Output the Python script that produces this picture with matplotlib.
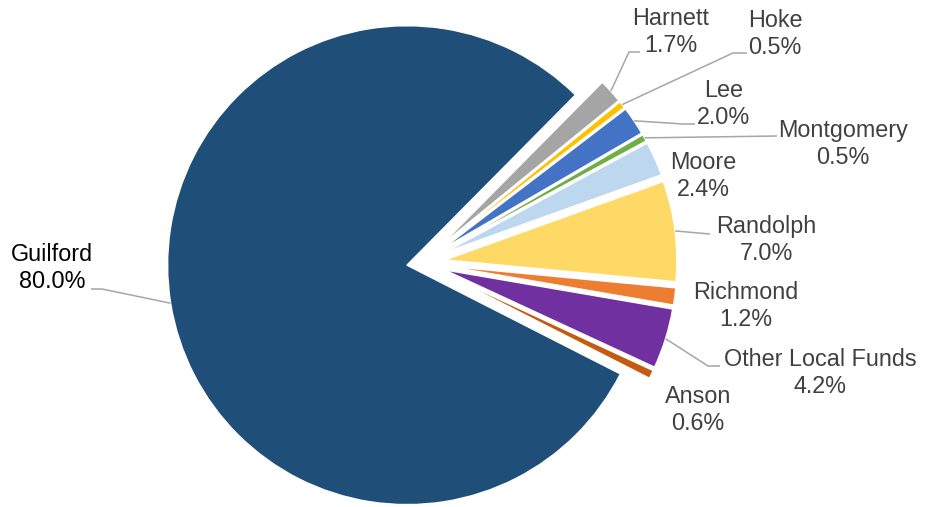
import matplotlib.pyplot as plt
import numpy as np

counties = ['Guilford', 'Harnett', 'Hoke', 'Lee', 'Montgomery', 'Moore',
            'Randolph', 'Richmond', 'Other Local Funds', 'Anson']
shares = [80.0, 1.7, 0.5, 2.0, 0.5, 2.4, 7.0, 1.2, 4.2, 0.6]
colors = ['#1F4E79', '#A5A5A5', '#FFC000', '#4472C4', '#70AD47', '#BDD7EE',
          '#FFD966', '#ED7D31', '#7030A0', '#C55A11']

W, H = 926, 507
CX, CY = 421.7, 262.8   # pie centre in pixels
R = 232.0               # pixels per data unit (radius of the small slices)


def px(x, y):
    return (x - CX) / R, (CY - y) / R


# label centres (pixels)
label_pos = {
    'Guilford': (52, 268), 'Harnett': (671, 32), 'Hoke': (775, 34),
    'Lee': (724, 104), 'Montgomery': (843, 144), 'Moore': (703, 176),
    'Randolph': (766, 240), 'Richmond': (746, 306),
    'Other Local Funds': (820, 373), 'Anson': (698, 410),
}
# leader line points after the slice edge (pixels)
leaders = {
    'Guilford': [(102, 289), (91, 289)],
    'Harnett': [(629, 52), (640, 52)],
    'Hoke': [(733, 53), (747, 53)],
    'Lee': [(683, 124), (695, 124)],
    'Montgomery': [(777, 136)],
    'Randolph': [(710, 234)],
    'Other Local Funds': [(708, 366), (720, 366)],
}


def main():
    fig = plt.figure(figsize=(W / 100, H / 100), dpi=100)
    ax = fig.add_axes([0, 0, 1, 1])

    explode = [0.064] + [0.101] * (len(shares) - 1)
    wedges, _ = ax.pie(shares, colors=colors, explode=explode, radius=1.0,
                       startangle=-27, counterclock=False,
                       wedgeprops=dict(edgecolor='white', linewidth=1.1))
    wedges[0].set_radius(239.5 / R)

    for name, share, w in zip(counties, shares, wedges):
        tx, ty = px(*label_pos[name])
        col = 'black' if name == 'Guilford' else '#404040'
        ax.text(tx, ty, f'{name}\n{share:.1f}%', ha='center', va='center',
                fontsize=16.8, color=col, family='Liberation Sans',
                linespacing=1.2)
        if name in leaders:
            mid = np.deg2rad((w.theta1 + w.theta2) / 2)
            x0 = w.center[0] + w.r * np.cos(mid)
            y0 = w.center[1] + w.r * np.sin(mid)
            pts = [(x0, y0)] + [px(*p) for p in leaders[name]]
            xs, ys = zip(*pts)
            ax.plot(xs, ys, color='#A6A6A6', lw=1.1, solid_capstyle='butt')

    ax.set_xlim(px(0, 0)[0], px(W, 0)[0])
    ax.set_ylim(px(0, H)[1], px(0, 0)[1])
    ax.set_aspect('equal')
    ax.axis('off')
    fig.savefig('out.png', dpi=100)


if __name__ == '__main__':
    main()
